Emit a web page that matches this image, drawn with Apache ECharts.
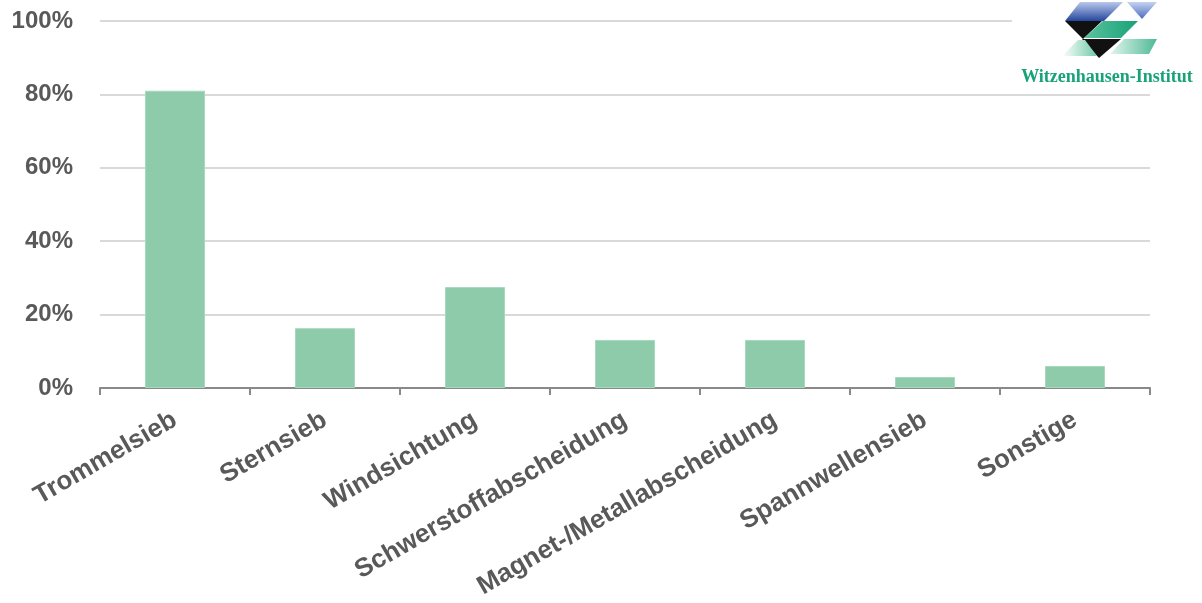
<!DOCTYPE html>
<html>
<head>
<meta charset="utf-8">
<script src="https://cdn.jsdelivr.net/npm/echarts@6/dist/echarts.min.js"></script>
<style>
html, body { margin: 0; padding: 0; background: #fff; }
#chart { width: 1202px; height: 603px; }
</style>
</head>
<body>
<div id="chart"></div>
<script>
// Verfahren der Aufbereitung (Anteil der Anlagen)
var categories = ['Trommelsieb', 'Sternsieb', 'Windsichtung', 'Schwerstoffabscheidung', 'Magnet-/Metallabscheidung', 'Spannwellensieb', 'Sonstige'];
var shares = [81, 16.3, 27.5, 13.1, 13.1, 3, 6];
var yTicks = [0, 20, 40, 60, 80, 100];

var textColor = '#595959';
var fontName = 'Liberation Sans, Arial, sans-serif';

var theChart = echarts.init(document.getElementById('chart'));

// Logo oben rechts
var green = '#17a277';
var logo = [
	{ type: 'rect', shape: { x: 1012, y: 0, width: 190, height: 89 }, style: { fill: '#fff' }, z: 50 },
	{ type: 'polygon', shape: { points: [[1080, 2], [1123, 2], [1104, 21], [1065, 21]] },
		style: { fill: new echarts.graphic.LinearGradient(0, 0, 0, 1, [{ offset: 0, color: '#b9c8ec' }, { offset: 1, color: '#25479c' }]) }, z: 51 },
	{ type: 'polygon', shape: { points: [[1127, 2], [1157, 2], [1142, 19]] },
		style: { fill: new echarts.graphic.LinearGradient(0, 0, 0, 1, [{ offset: 0, color: '#c5d2f0' }, { offset: 1, color: '#4a6cc0' }]) }, z: 51 },
	{ type: 'polygon', shape: { points: [[1065, 21], [1102, 21], [1083, 39]] }, style: { fill: '#111' }, z: 51 },
	{ type: 'polygon', shape: { points: [[1103, 21], [1138, 21], [1121, 38], [1084, 38]] },
		style: { fill: new echarts.graphic.LinearGradient(0, 0, 1, 0, [{ offset: 0, color: '#5cc29f' }, { offset: 1, color: green }]) }, z: 51 },
	{ type: 'polygon', shape: { points: [[1082, 39], [1121, 39], [1099, 58]] }, style: { fill: '#111' }, z: 51 },
	{ type: 'polygon', shape: { points: [[1078, 40], [1085, 40], [1097, 56], [1062, 56]] },
		style: { fill: new echarts.graphic.LinearGradient(0, 0, 1, 0, [{ offset: 0, color: '#ffffff' }, { offset: 1, color: '#6fcaa8' }]) }, z: 51 },
	{ type: 'polygon', shape: { points: [[1124, 39], [1157, 39], [1149, 54], [1110, 54]] },
		style: { fill: new echarts.graphic.LinearGradient(0, 0, 1, 0, [{ offset: 0, color: '#e3f5ee' }, { offset: 1, color: '#4dba94' }]) }, z: 51 },
	{ type: 'text', x: 1107, y: 77, z: 51,
		style: { text: 'Witzenhausen-Institut', fill: green, font: 'bold 18px "Liberation Serif", "DejaVu Serif", serif', align: 'center', verticalAlign: 'middle' } }
];

var option = {
	animation: false,
	backgroundColor: '#fff',
	grid: { left: 100, right: 52, top: 21, bottom: 215, containLabel: false },
	xAxis: {
		type: 'category',
		data: categories,
		axisLine: { lineStyle: { color: '#898989', width: 2 } },
		axisTick: { show: true, length: 7, lineStyle: { color: '#898989', width: 2 } },
		axisLabel: {
			rotate: 30,
			margin: 30,
			interval: 0,
			color: textColor,
			fontSize: 26,
			fontWeight: 'bold',
			fontFamily: fontName
		}
	},
	yAxis: {
		type: 'value',
		min: yTicks[0],
		max: yTicks[yTicks.length - 1],
		interval: 20,
		axisLine: { show: false },
		axisTick: { show: false },
		splitLine: { lineStyle: { color: '#d9d9d9', width: 2 } },
		axisLabel: {
			margin: 27,
			color: textColor,
			fontSize: 24,
			fontWeight: 'bold',
			fontFamily: fontName,
			formatter: '{value}%'
		}
	},
	series: [{
		type: 'bar',
		data: shares,
		barWidth: '40%',
		itemStyle: { color: '#8ecbab', borderColor: '#a6d8bd', borderWidth: 1 }
	}],
	graphic: logo
};

theChart.setOption(option);
</script>
</body>
</html>
